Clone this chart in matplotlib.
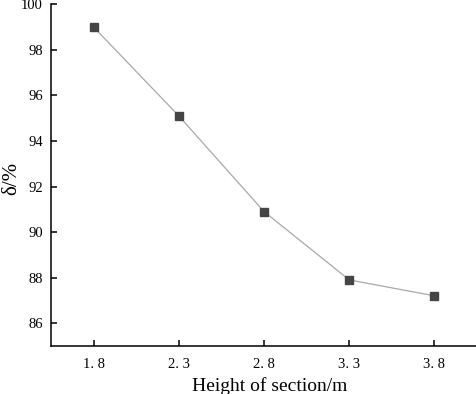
import numpy as np
import matplotlib.pyplot as plt

heights = [1.8, 2.3, 2.8, 3.3, 3.8]
delta = [99.0, 95.1, 90.9, 87.9, 87.2]
x_ticklabels = ["1. 8", "2. 3", "2. 8", "3. 3", "3. 8"]
y_ticks = [86, 88, 90, 92, 94, 96, 98, 100]

plt.rcParams["font.family"] = ["Liberation Serif", "DejaVu Serif"]

fig = plt.figure(figsize=(4.77, 3.94), dpi=100)
ax = fig.add_axes([0.107, 0.122, 0.893, 0.867])

ax.plot(heights, delta, color="#a8a8a8", lw=0.9, marker="s", ms=6,
        mfc="#454545", mec="#454545", zorder=3)

ax.set_xlim(1.55, 4.05)
ax.set_ylim(85, 100)
ax.set_xticks(heights)
ax.set_xticklabels(x_ticklabels)
ax.set_yticks(y_ticks)

for s in ["top", "right"]:
    ax.spines[s].set_visible(False)
for s in ["left", "bottom"]:
    ax.spines[s].set_linewidth(1.1)
    ax.spines[s].set_clip_on(False)

ax.tick_params(direction="in", length=4.5, width=1.1, labelsize=10.5, pad=6)
ax.tick_params(axis="x", pad=9)

ax.set_xlabel("Height of section/m", fontsize=14)
ax.xaxis.set_label_coords(0.514, -0.09)
ax.set_ylabel("δ/%", fontsize=15)
ax.yaxis.set_label_coords(-0.07, 0.49)

fig.savefig("out.png", dpi=100)
